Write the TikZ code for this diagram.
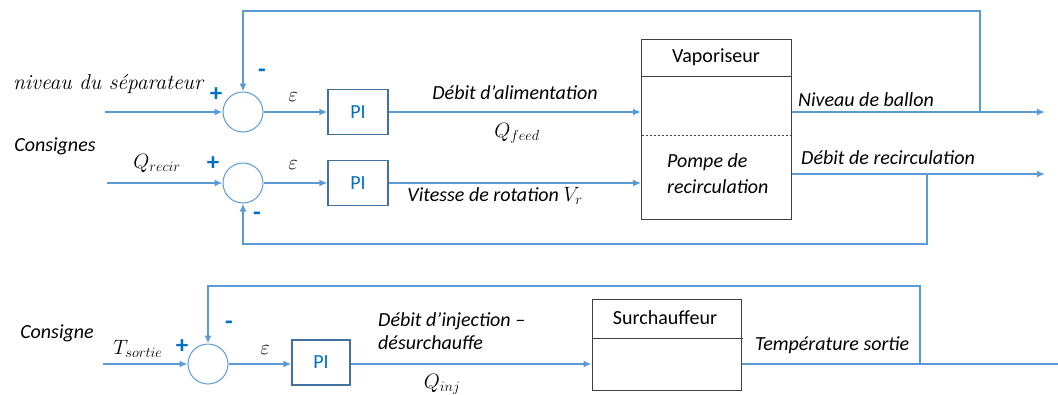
\documentclass[tikz,border=0pt]{standalone}
\usepackage{fontspec}
\usetikzlibrary{arrows.meta}
\newfontfamily\calib{Carlito}
\definecolor{lblue}{HTML}{5B9BD5}
\definecolor{piblue}{HTML}{0070C0}
\definecolor{pibord}{HTML}{41719C}
\definecolor{boxgrey}{HTML}{404040}
\begin{document}
\begin{tikzpicture}[x=1pt,y=-1pt,
  ln/.style={draw=lblue, line width=1.8pt},
  arr/.style={ln, -{Latex[length=8pt,width=7pt]}},
  sum/.style={circle, draw=lblue, line width=1pt, minimum size=40pt, inner sep=0pt},
  pibox/.style={rectangle, draw=pibord, line width=1.2pt, minimum width=60pt, minimum height=45pt, text=piblue, font=\calib\fontsize{20}{24}\selectfont},
  sysbox/.style={rectangle, draw=boxgrey, line width=1pt, inner sep=0pt},
  lbl/.style={font=\calib\itshape\fontsize{20}{26}\selectfont, inner sep=0pt},
  rom/.style={font=\calib\fontsize{20}{24}\selectfont, inner sep=0pt},
  mth/.style={font=\fontsize{20}{24}\selectfont, inner sep=0pt},
  sgn/.style={font=\calib\bfseries\fontsize{25}{26}\selectfont, text=piblue, inner sep=0pt}
]
\useasboundingbox (0,0) rectangle (1058,394);

% ---------- top loop 1 ----------
\node[sum] (s1) at (243,112) {};
\node[pibox] (pi1) at (358,112) {PI};
\node[sysbox, minimum width=150pt, minimum height=180pt] (vap) at (716.5,129.5) {};
\coordinate (vh1) at (642,76); \coordinate (vh2) at (791,76);
\draw[boxgrey, line width=1pt] (vh1) -- (vh2);
\coordinate (vd1) at (642,135); \coordinate (vd2) at (791,135);
\draw[boxgrey, line width=0.6pt, dash pattern=on 2pt off 2pt] (vd1) -- (vd2);

\coordinate (in1) at (105,112);
\coordinate (out1) at (1045,112);
\coordinate (fb1) at (980,112);
\coordinate (top1) at (980,11);
\draw[arr] (in1) -- (s1.west);
\draw[arr] (s1.east) -- (pi1.west);
\draw[arr] (pi1.east) -- (pi1.east -| vap.west);
\draw[arr] (vap.east |- in1) -- (out1);
\draw[arr] (fb1) -- (top1) -| (s1.north);

% ---------- loop 2 ----------
\node[sum] (s2) at (243,183) {};
\node[pibox] (pi2) at (358,183) {PI};
\coordinate (in2) at (107,183);
\coordinate (out2) at (1045,174);
\coordinate (fb2) at (927,174);
\coordinate (bot2) at (927,244);
\draw[arr] (in2) -- (s2.west);
\draw[arr] (s2.east) -- (pi2.west);
\draw[arr] (pi2.east) -- (pi2.east -| vap.west);
\draw[arr] (vap.east |- out2) -- (out2);
\draw[arr] (fb2) -- (bot2) -| (s2.south);

% ---------- labels top ----------
\node[mth, font=\itshape\fontsize{21.5}{24}\selectfont] at (108,84) {niveau du séparateur};
\node[lbl] at (55,146) {Consignes};
\node[mth] at (157,163) {$Q_{recir}$};
\node[sgn] at (216,95) {+};
\node[sgn] at (262,73) {-};
\node[sgn] at (213,164) {+};
\node[sgn] at (257,216) {-};
\node[mth] at (293,97) {$\varepsilon$};
\node[mth] at (293,165) {$\varepsilon$};
\node[lbl] at (515,93) {Débit d’alimentation};
\node[mth] at (517,133) {$Q_{feed}$};
\node[lbl] at (495,196) {Vitesse de rotation $V_r$};
\node[rom] at (716,57) {Vaporiseur};
\node[lbl, align=left, anchor=west] at (667,174) {Pompe de\\recirculation};
\node[lbl, anchor=west] at (798,100) {Niveau de ballon};
\node[lbl, anchor=west] at (801,158) {Débit de recirculation};

% ---------- bottom loop ----------
\node[sum] (s3) at (208,364) {};
\node[pibox, minimum width=58pt] (pi3) at (321,362.5) {PI};
\node[sysbox, minimum width=149pt, minimum height=91pt] (sur) at (666.5,344.5) {};
\coordinate (sh1) at (592,338); \coordinate (sh2) at (743,338);
\draw[boxgrey, line width=1pt] (sh1) -- (sh2);
\coordinate (in3) at (103,364);
\coordinate (out3) at (1058,364);
\coordinate (fb3) at (920,364);
\coordinate (top3) at (920,286);
\draw[arr] (in3) -- (s3.west);
\draw[arr] (s3.east) -- (s3.east -| pi3.west);
\draw[arr] (s3.east -| pi3.east) -- (s3.east -| sur.west);
\draw[ln] (sur.east |- out3) -- (out3);
\draw[arr] (fb3) -- (top3) -| (s3.north);

\node[lbl] at (57,333) {Consigne};
\node[mth] at (138,349) {$T_{sortie}$};
\node[sgn] at (182,347) {+};
\node[sgn] at (229,325) {-};
\node[mth] at (265,350) {$\varepsilon$};
\node[lbl, align=left, anchor=west, font=\calib\itshape\fontsize{20}{23}\selectfont] at (378,331) {Débit d’injection –\\désurchauffe};
\node[mth] at (442,384) {$Q_{inj}$};
\node[rom] at (665,318) {Surchauffeur};
\node[lbl, anchor=west] at (755,345) {Température sortie};
\end{tikzpicture}
\end{document}
